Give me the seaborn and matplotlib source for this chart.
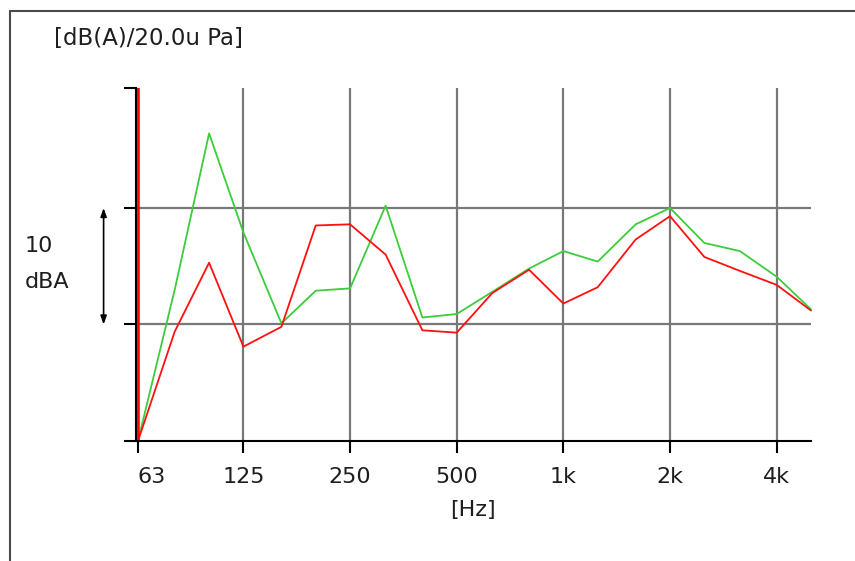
import numpy as np
import pandas as pd
import matplotlib
matplotlib.use("Agg")
import matplotlib.pyplot as plt
from matplotlib.lines import Line2D
from matplotlib.ticker import NullLocator, FixedLocator
import seaborn as sns

# 1/3-octave band centre frequencies [Hz]
bands = [63, 80, 100, 125, 160, 200, 250, 315, 400, 500, 630, 800,
         1000, 1250, 1600, 2000, 2500, 3150, 4000, 5000]
# A-weighted band levels [dB(A) re 20 uPa]
level_red = [40.0, 49.4, 55.3, 48.1, 49.8, 58.5, 58.6, 56.0, 49.5, 49.3,
             52.7, 54.7, 51.8, 53.2, 57.3, 59.3, 55.8, 54.6, 53.4, 51.2]
level_green = [40.0, 53.0, 66.4, 57.9, 50.1, 52.9, 53.1, 60.2, 50.6, 50.9,
               52.8, 54.8, 56.3, 55.4, 58.6, 60.0, 57.0, 56.3, 54.1, 51.3]

octave_ticks = [63, 125, 250, 500, 1000, 2000, 4000]
octave_labels = ["63", "125", "250", "500", "1k", "2k", "4k"]
level_grid = [50, 60]
y_min, y_max = 40.0, 70.3

df = pd.DataFrame({
    "freq": bands * 2,
    "level": level_green + level_red,
    "series": ["green"] * len(bands) + ["red"] * len(bands),
})

sns.set_style("white")
plt.rcParams["font.family"] = ["DejaVu Sans"]
text_color = "#1e1e1e"
grid_color = "#787878"

fig = plt.figure(figsize=(8.55, 5.61), dpi=100)
W, H = 855, 561
ax = fig.add_axes([136 / W, 1 - 441 / H, 675 / W, 353 / H])

ax.set_xscale("log", base=2)
ax.set_xlim(63 * 2 ** (-2 / 106.8), 5000)
ax.set_ylim(y_min, y_max)

# grid
for f in octave_ticks:
    ax.axvline(f, color=grid_color, lw=1.6, zorder=1)
for lv in level_grid:
    ax.axhline(lv, color=grid_color, lw=1.6, zorder=1)

sns.lineplot(data=df, x="freq", y="level", hue="series",
             palette={"green": "#3ccc3c", "red": "#ff1010"},
             hue_order=["green", "red"], legend=False, lw=1.3,
             ax=ax, zorder=3, clip_on=False)

# band cursor at the first band
ax.axvline(bands[0], color="#ff0000", lw=1.8, zorder=4)

ax.xaxis.set_minor_locator(NullLocator())
ax.xaxis.set_major_locator(FixedLocator(octave_ticks))
ax.set_xticklabels(octave_labels)
ax.set_yticks([y_min] + level_grid + [y_max])
ax.set_yticklabels([])
ax.tick_params(axis="both", which="major", direction="out", length=8.6,
               width=1.5, color="black", labelsize=16, labelcolor=text_color,
               bottom=True, left=True)
ax.tick_params(axis="x", pad=10)
ax.get_xticklabels()[0].set_horizontalalignment("left")
ax.get_xticklabels()[0].set_x(63)

for s in ("top", "right"):
    ax.spines[s].set_visible(False)
for s in ("left", "bottom"):
    ax.spines[s].set_color("black")
    ax.spines[s].set_linewidth(1.5)
    ax.spines[s].set_zorder(5)

ax.set_xlabel("[Hz]", fontsize=16, color=text_color)
ax.xaxis.set_label_coords((472.5 - 136) / 675, -59 / 353)
ax.xaxis.label.set_verticalalignment("top")
ax.set_ylabel("")

# scale bar: 10 dBA
ax.annotate("", xy=(-0.048, level_grid[1]), xytext=(-0.048, level_grid[0]),
            xycoords=ax.get_yaxis_transform(),
            textcoords=ax.get_yaxis_transform(),
            arrowprops=dict(arrowstyle="<|-|>,head_length=0.5,head_width=0.18",
                            color="black", lw=1.2, shrinkA=0, shrinkB=0),
            annotation_clip=False)
fig.text(25 / W, 1 - 246 / H, "10", fontsize=16, color=text_color,
         ha="left", va="center")
fig.text(25 / W, 1 - 282 / H, "dBA", fontsize=16, color=text_color,
         ha="left", va="center")

fig.text(54 / W, 1 - 39 / H, "[dB(A)/20.0u Pa]", fontsize=16.5,
         color=text_color, ha="left", va="center")

# outer frame
fig.add_artist(Line2D([10 / W, 1.0], [1 - 11 / H, 1 - 11 / H],
                      transform=fig.transFigure, color="#4a4a4a", lw=1.5))
fig.add_artist(Line2D([10 / W, 10 / W], [0.0, 1 - 11 / H],
                      transform=fig.transFigure, color="#4a4a4a", lw=1.5))

fig.savefig("out.png", dpi=100)
